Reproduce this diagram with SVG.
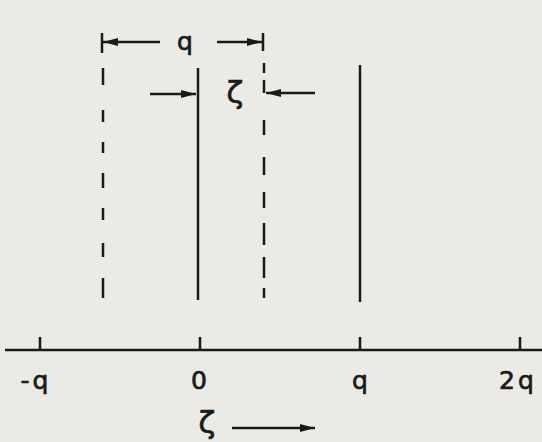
<svg xmlns="http://www.w3.org/2000/svg" width="542" height="442" viewBox="0 0 542 442">
<defs>
<style>
.ln{stroke:#1a1a1a;stroke-width:2.5;fill:none}
.ds{stroke:#1a1a1a;stroke-width:2.5;fill:none}
.t{font-family:"DejaVu Sans","Liberation Sans",sans-serif;font-size:25px;fill:#1a1a1a;stroke:#1a1a1a;stroke-width:0.7;text-anchor:middle}
.z{font-size:31px}
</style>
<marker id="ah" viewBox="0 0 15 8" refX="15" refY="4" markerWidth="15" markerHeight="8" markerUnits="userSpaceOnUse" orient="auto">
<path d="M0,0 L15,4 L0,8 Z" fill="#1a1a1a"/>
</marker>
</defs>
<rect width="542" height="442" fill="#ebeae5"/>
<g id="dashed-left"><path class="ds" d="M103,68 V85 M103,110 V122 M103,142 V153 M103,173 V188 M103,208 V220 M103,243 V257 M103,278 V298"/></g>
<g id="dashed-right"><path class="ds" d="M264,63 V73 M264,80 V93 M264,120 V135 M264,157 V175 M264,192 V208 M264,223 V245 M264,257 V278 M264,288 V298"/></g>
<g id="line-0"><path class="ln" d="M198,68 V300"/></g>
<g id="line-q"><path class="ln" d="M360,65 V302"/></g>
<g id="axis">
<path class="ln" d="M5,350 H542 M40,337 V350 M200,337 V350 M360,337 V350 M520,337 V350"/>
<text class="t" x="36" y="389" letter-spacing="3">-q</text>
<text class="t" x="199" y="389">0</text>
<text class="t" x="360" y="389">q</text>
<text class="t" x="518" y="389" letter-spacing="3">2q</text>
</g>
<g id="dim-q">
<path class="ln" d="M102,33 V53 M263,33 V51"/>
<text class="t" x="185" y="50">q</text>
</g>
<g id="dim-zeta">
<text class="t z" x="235" y="103">ζ</text>
</g>
<g id="axis-label">
<text class="t z" x="207" y="433">ζ</text>
</g>
<g id="connectors">
<path class="ln" d="M160,42 H103" marker-end="url(#ah)"/>
<path class="ln" d="M217,42 H262" marker-end="url(#ah)"/>
<path class="ln" d="M150,94 H196" marker-end="url(#ah)"/>
<path class="ln" d="M315,93 H266" marker-end="url(#ah)"/>
<path class="ln" d="M232,428 H315" marker-end="url(#ah)"/>
</g>
</svg>
